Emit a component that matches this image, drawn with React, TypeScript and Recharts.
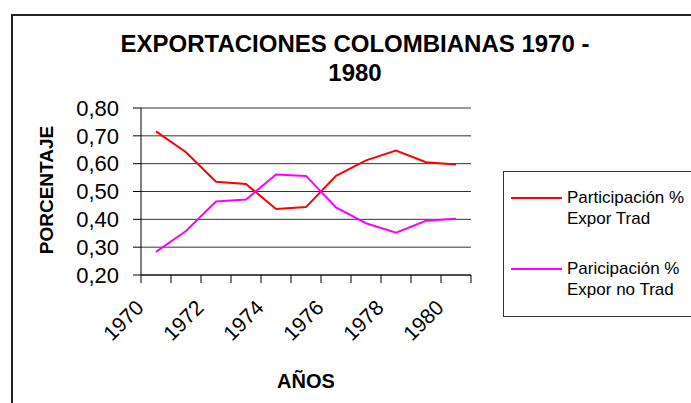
import React from 'react'
import {
  LineChart,
  Line,
  XAxis,
  YAxis,
  CartesianGrid,
  Legend,
} from 'recharts'

const years = [1970, 1971, 1972, 1973, 1974, 1975, 1976, 1977, 1978, 1979, 1980]
const tradShare = [0.716, 0.641, 0.535, 0.527, 0.437, 0.444, 0.556, 0.612, 0.647, 0.605, 0.597]
const noTradShare = [0.283, 0.358, 0.464, 0.471, 0.561, 0.556, 0.443, 0.386, 0.352, 0.395, 0.402]
const yTicks = [0.2, 0.3, 0.4, 0.5, 0.6, 0.7, 0.8]

const seriesNames = ['Participación %|Expor Trad', 'Paricipación %|Expor no Trad']
const seriesColors = ['#ff0000', '#ff00ff']

const data = years.map((year, i) => ({
  year,
  trad: tradShare[i],
  noTrad: noTradShare[i],
}))

// tick marks sit between the years, like the spreadsheet original
const boundaryTicks = [...years.map((y) => y - 0.5), years[years.length - 1] + 0.5]

const FONT = '"Liberation Sans", Arial, sans-serif'

// label every second year, centred in its slot (half a tick step right of the mark)
function YearTick(props: any) {
  const { x, y, payload, width, visibleTicksCount } = props
  const year = payload.value + 0.5
  if (year > years[years.length - 1] || year % 2 !== 0) return <g />
  const half = width / (visibleTicksCount - 1) / 2
  const ax = x + half - 11
  const ay = y + 24
  return (
    <text
      x={ax}
      y={ay}
      transform={`rotate(-45 ${ax} ${ay})`}
      textAnchor="end"
      fontSize={21}
      fontFamily={FONT}
      fill="#000"
    >
      {year}
    </text>
  )
}

function LegendBox() {
  return (
    <div
      style={{
        width: 200,
        height: 144,
        border: '1px solid #333',
        background: '#fff',
        fontFamily: FONT,
      }}
    >
      <svg width={200} height={144}>
        {seriesNames.map((name, i) => {
          const [l1, l2] = name.split('|')
          const cy = 26 + i * 71
          return (
            <g key={name}>
              <line x1={7} x2={58} y1={cy} y2={cy} stroke={seriesColors[i]} strokeWidth={2} />
              <text x={63} y={cy + 5} fontSize={17} fill="#000">{l1}</text>
              <text x={63} y={cy + 26} fontSize={17} fill="#000">{l2}</text>
            </g>
          )
        })}
      </svg>
    </div>
  )
}

export default function App() {
  return (
    <div
      style={{
        position: 'absolute',
        left: 0,
        top: 0,
        width: 691,
        height: 403,
        overflow: 'hidden',
        background: '#fff',
        fontFamily: FONT,
      }}
    >
      <div
        style={{
          position: 'absolute',
          left: 11,
          top: 14,
          width: 720,
          height: 420,
          border: '2px solid #222',
          boxSizing: 'border-box',
        }}
      />
      <div
        style={{
          position: 'absolute',
          left: 55,
          top: 29,
          width: 600,
          textAlign: 'center',
          fontSize: 24,
          lineHeight: '29px',
          fontWeight: 'bold',
        }}
      >
        EXPORTACIONES COLOMBIANAS 1970 -<br />1980
      </div>
      <div
        style={{
          position: 'absolute',
          left: 47,
          top: 190,
          transform: 'translate(-50%, -50%) rotate(-90deg)',
          fontSize: 19,
          fontWeight: 'bold',
          whiteSpace: 'nowrap',
        }}
      >
        PORCENTAJE
      </div>
      <div
        style={{
          position: 'absolute',
          left: 206,
          top: 371,
          width: 200,
          textAlign: 'center',
          fontSize: 20,
          lineHeight: '20px',
          fontWeight: 'bold',
        }}
      >
        AÑOS
      </div>
      <div style={{ position: 'absolute', left: 0, top: 0 }}>
        <LineChart
          width={691}
          height={403}
          data={data}
          margin={{ top: 108, right: 220, bottom: 68, left: 0 }}
        >
          <CartesianGrid horizontal vertical={false} stroke="#333" />
          <XAxis
            dataKey="year"
            type="number"
            domain={[boundaryTicks[0], boundaryTicks[boundaryTicks.length - 1]]}
            ticks={boundaryTicks}
            interval={0}
            tick={<YearTick />}
            tickSize={8}
            tickLine={{ stroke: '#000' }}
            axisLine={{ stroke: '#000' }}
            height={60}
          />
          <YAxis
            width={141}
            domain={[0.2, 0.8]}
            ticks={yTicks}
            interval={0}
            tickFormatter={(v: number) => v.toFixed(2).replace('.', ',')}
            tickSize={8}
            tickMargin={14}
            tickLine={{ stroke: '#000' }}
            axisLine={{ stroke: '#000' }}
            tick={{ fill: '#000', fontSize: 22, fontFamily: FONT }}
          />
          <Line
            dataKey="trad"
            name="Participación % Expor Trad"
            stroke={seriesColors[0]}
            strokeWidth={2}
            dot={false}
            isAnimationActive={false}
          />
          <Line
            dataKey="noTrad"
            name="Paricipación % Expor no Trad"
            stroke={seriesColors[1]}
            strokeWidth={2}
            dot={false}
            isAnimationActive={false}
          />
          <Legend
            layout="horizontal"
            align="center"
            verticalAlign="middle"
            content={<LegendBox />}
            wrapperStyle={{ position: 'absolute', left: 503, top: 171, width: 200, height: 146 }}
          />
        </LineChart>
      </div>
    </div>
  )
}
